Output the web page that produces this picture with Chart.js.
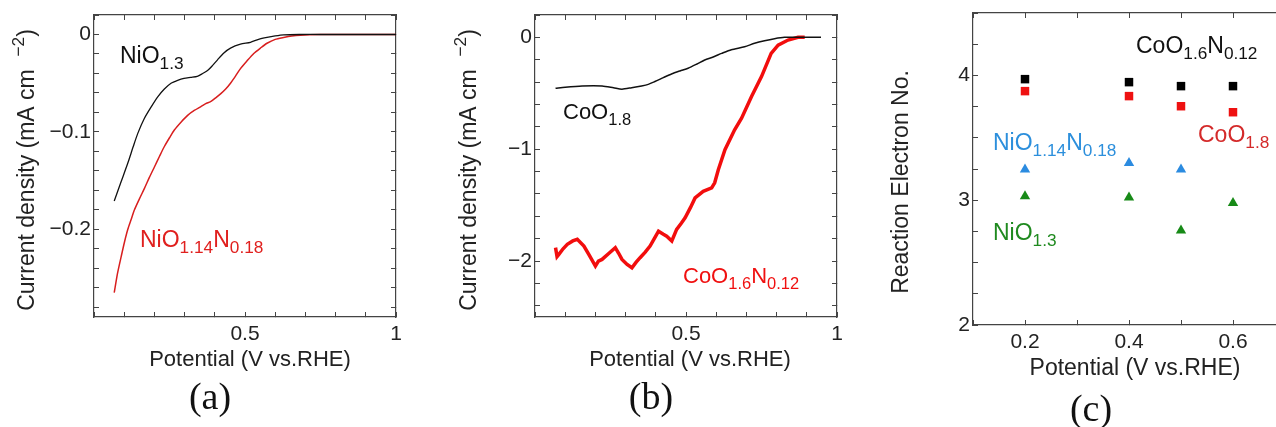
<!DOCTYPE html>
<html>
<head>
<meta charset="utf-8">
<script src="https://cdn.jsdelivr.net/npm/chart.js@4.4.1/dist/chart.umd.min.js"></script>
<style>
  html, body { margin: 0; padding: 0; background: #fff; width: 1276px; height: 427px; overflow: hidden; }
  .panel { position: absolute; top: 0; }
</style>
</head>
<body>
<div class="panel" style="left:0"><canvas id="chartA" width="420" height="427"></canvas></div>
<div class="panel" style="left:440px"><canvas id="chartB" width="420" height="427"></canvas></div>
<div class="panel" style="left:860px"><canvas id="chartC" width="440" height="427"></canvas></div>
<script>
// ---- (a) NiO LSV curves ----
const potA_NiO = [0.067, 0.09, 0.112, 0.13, 0.145, 0.167, 0.19, 0.211, 0.233, 0.255, 0.277, 0.298, 0.32, 0.342, 0.36, 0.376, 0.392, 0.409, 0.43, 0.452, 0.485, 0.518, 0.545, 0.573, 0.6, 0.628, 0.68, 0.75, 0.85, 0.95, 1.0];
const curA_NiO = [-0.171, -0.151, -0.132, -0.115, -0.1015, -0.086, -0.074, -0.064, -0.056, -0.050, -0.047, -0.045, -0.044, -0.043, -0.040, -0.037, -0.032, -0.026, -0.019, -0.014, -0.010, -0.008, -0.005, -0.003, -0.0015, -0.0004, 0, 0, 0, 0, 0];
const potA_NiON = [0.067, 0.078, 0.09, 0.101, 0.112, 0.123, 0.134, 0.15, 0.167, 0.183, 0.2, 0.217, 0.233, 0.25, 0.266, 0.288, 0.31, 0.332, 0.354, 0.37, 0.386, 0.403, 0.419, 0.436, 0.452, 0.468, 0.485, 0.507, 0.529, 0.551, 0.573, 0.6, 0.628, 0.655, 0.683, 0.75, 0.8, 0.9, 1.0];
const curA_NiON = [-0.265, -0.245, -0.228, -0.213, -0.2, -0.19, -0.18, -0.169, -0.158, -0.147, -0.136, -0.125, -0.115, -0.106, -0.098, -0.09, -0.083, -0.078, -0.074, -0.071, -0.069, -0.065, -0.061, -0.056, -0.050, -0.043, -0.035, -0.027, -0.0195, -0.014, -0.009, -0.005, -0.003, -0.0015, -0.0007, 0, 0, 0, 0];

// ---- (b) CoO LSV curves ----
const potB_CoO = [0.068, 0.1, 0.156, 0.222, 0.26, 0.288, 0.32, 0.353, 0.375, 0.397, 0.425, 0.452, 0.48, 0.507, 0.535, 0.562, 0.59, 0.618, 0.65, 0.694, 0.727, 0.76, 0.793, 0.826, 0.88, 0.947];
const curB_CoO = [-0.455, -0.445, -0.434, -0.434, -0.45, -0.463, -0.45, -0.434, -0.42, -0.395, -0.36, -0.327, -0.30, -0.276, -0.24, -0.202, -0.175, -0.143, -0.11, -0.084, -0.053, -0.030, -0.012, 0, 0, 0];
const potB_CoON = [0.068, 0.073, 0.079, 0.093, 0.107, 0.125, 0.14, 0.162, 0.18, 0.2, 0.21, 0.222, 0.245, 0.266, 0.277, 0.288, 0.305, 0.321, 0.335, 0.348, 0.365, 0.381, 0.395, 0.409, 0.425, 0.436, 0.453, 0.469, 0.485, 0.497, 0.515, 0.53, 0.557, 0.585, 0.595, 0.607, 0.629, 0.661, 0.684, 0.717, 0.75, 0.782, 0.805, 0.838, 0.871, 0.893];
const curB_CoON = [-1.88, -1.96, -1.94, -1.89, -1.85, -1.82, -1.806, -1.866, -1.95, -2.045, -2.0, -1.985, -1.93, -1.88, -1.93, -1.985, -2.03, -2.06, -2.01, -1.97, -1.92, -1.866, -1.80, -1.733, -1.76, -1.777, -1.82, -1.717, -1.66, -1.613, -1.52, -1.435, -1.376, -1.346, -1.30, -1.183, -1.004, -0.826, -0.722, -0.529, -0.351, -0.143, -0.069, -0.024, 0, 0];

// ---- (c) reaction electron number ----
const potC = [0.2, 0.4, 0.5, 0.6];
const nCoON = [3.97, 3.946, 3.914, 3.914];
const nCoO = [3.874, 3.834, 3.753, 3.705];
const nNiON = [3.245, 3.299, 3.245, null];
const nNiO = [3.032, 3.021, 2.757, 2.978];

// labelled ticks
const majorXA = [0.5, 1], majorYA = [-0.2, -0.1, 0];
const majorXB = [0.5, 1], majorYB = [-2, -1, 0];
const majorXC = [0.2, 0.4, 0.6], majorYC = [2, 3, 4];

const SANS = "'Liberation Sans', Arial, sans-serif";
const SERIF = "'Liberation Serif', 'Times New Roman', serif";
Chart.defaults.font.family = SANS;
Chart.defaults.color = '#222';

const pairs = (xs, ys) => xs.map((x, i) => ({ x, y: ys[i] })).filter(p => p.y !== null);

// rich text: "NiO_{1.3}" -> subscripts, "^{-2}" -> superscript
function drawRich(ctx, it) {
    const size = it.size || 22, fam = it.family || SANS;
    const parts = [];
    it.text.replace(/_\{([^}]*)\}|\^\{([^}]*)\}|[^_^]+/g, (m, sub, sup) => {
        if (sub !== undefined) parts.push({ t: sub, k: 'sub' });
        else if (sup !== undefined) parts.push({ t: sup, k: 'sup' });
        else parts.push({ t: m, k: '' });
    });
    ctx.save();
    ctx.fillStyle = it.color || '#222';
    let w = 0;
    parts.forEach(p => {
        p.f = (p.k ? size * 0.75 : size) + 'px ' + fam;
        ctx.font = p.f;
        p.w = ctx.measureText(p.t).width;
        w += p.w;
    });
    ctx.translate(it.x, it.y);
    if (it.rotate) ctx.rotate(it.rotate);
    ctx.textBaseline = it.baseline || 'alphabetic';
    let x = it.align === 'center' ? -w / 2 : 0;
    parts.forEach(p => {
        ctx.font = p.f;
        const dy = p.k === 'sub' ? size * 0.26 : p.k === 'sup' ? -size * 0.4 : 0;
        ctx.fillText(p.t, x, dy);
        x += p.w;
    });
    ctx.restore();
}

const textLayer = {
    id: 'textLayer',
    afterDraw(chart, args, opts) {
        (opts.items || []).forEach(it => drawRich(chart.ctx, it));
    }
};

function stepTicks(step) {
    return scale => {
        const out = [];
        const n0 = Math.ceil(scale.min / step - 1e-6), n1 = Math.floor(scale.max / step + 1e-6);
        for (let i = n0; i <= n1; i++) out.push({ value: +(i * step).toFixed(6) });
        scale.ticks = out;
    };
}

const fmt = v => (v < 0 ? '\u2212' : '') + Math.abs(v);

function axis(pos, min, max, step, majors, size, labels) {
    const horiz = pos === 'top' || pos === 'bottom';
    return {
        type: 'linear', position: pos, min, max,
        afterBuildTicks: stepTicks(step),
        afterFit: s => {
            if (horiz) s.height = size; else s.width = size;
            s.paddingTop = s.paddingBottom = s.paddingLeft = s.paddingRight = 0;
        },
        grid: { drawOnChartArea: false, drawTicks: true, tickLength: -5, color: '#444', lineWidth: 1 },
        border: { display: true, color: '#444', width: 1.2 },
        ticks: {
            display: labels, autoSkip: false, maxRotation: 0,
            padding: horiz ? 10 : 8,
            font: { size: 21 }, color: '#222',
            callback: v => majors.some(m => Math.abs(m - v) < 1e-6) ? fmt(v) : ''
        }
    };
}

function lsvChart(id, sets, xr, yr, sizes, items) {
    new Chart(document.getElementById(id), {
        type: 'line',
        data: { datasets: sets },
        options: {
            responsive: false, animation: false,
            layout: { padding: 0 },
            elements: { point: { radius: 0 }, line: { tension: 0.25 } },
            plugins: { legend: { display: false }, tooltip: { enabled: false }, textLayer: { items } },
            scales: {
                x: axis('bottom', xr[0], xr[1], xr[2], xr[3], sizes.bottom, true),
                x2: axis('top', xr[0], xr[1], xr[2], [], sizes.top, false),
                y: axis('left', yr[0], yr[1], yr[2], yr[3], sizes.left, true),
                y2: axis('right', yr[0], yr[1], yr[2], [], sizes.right, false)
            }
        },
        plugins: [textLayer]
    });
}

const yTitleJ = 'Current density (mA cm  ^{\u22122})';
const xTitle = 'Potential (V vs.RHE)';

lsvChart('chartA', [
    { data: pairs(potA_NiO, curA_NiO), borderColor: '#111', borderWidth: 1.3 },
    { data: pairs(potA_NiON, curA_NiON), borderColor: '#d81e1e', borderWidth: 1.5 }
], [0, 1, 0.1, majorXA], [-0.29, 0.02, 0.02, majorYA],
   { left: 94, right: 24, top: 15, bottom: 110 }, [
    { text: yTitleJ, x: 28, y: 170, rotate: -Math.PI / 2, align: 'center', baseline: 'middle', size: 23 },
    { text: xTitle, x: 250, y: 360, align: 'center', baseline: 'middle', size: 22 },
    { text: '(a)', x: 210, y: 409, align: 'center', size: 38, family: SERIF, color: '#111' },
    { text: 'NiO_{1.3}', x: 120, y: 63, size: 23, color: '#111' },
    { text: 'NiO_{1.14}N_{0.18}', x: 140, y: 247, size: 23, color: '#e0201e' }
]);

lsvChart('chartB', [
    { data: pairs(potB_CoO, curB_CoO), borderColor: '#111', borderWidth: 1.5 },
    { data: pairs(potB_CoON, curB_CoON), borderColor: '#f20d0d', borderWidth: 3.5, tension: 0 }
], [0, 1, 0.1, majorXB], [-2.5, 0.2, 0.2, majorYB],
   { left: 95, right: 23, top: 15, bottom: 110 }, [
    { text: yTitleJ, x: 30, y: 170, rotate: -Math.PI / 2, align: 'center', baseline: 'middle', size: 23 },
    { text: xTitle, x: 250, y: 360, align: 'center', baseline: 'middle', size: 22 },
    { text: '(b)', x: 211, y: 409, align: 'center', size: 38, family: SERIF, color: '#111' },
    { text: 'CoO_{1.8}', x: 123, y: 119, size: 22, color: '#111' },
    { text: 'CoO_{1.6}N_{0.12}', x: 243, y: 283, size: 22, color: '#f01010' }
]);

// (c) scatter
const markC = (label, ys, color, style, r) => ({
    label, data: pairs(potC, ys), backgroundColor: color, borderColor: color,
    borderWidth: 0, pointStyle: style, pointRadius: r
});

new Chart(document.getElementById('chartC'), {
    type: 'scatter',
    data: {
        datasets: [
            markC('CoO1.6N0.12', nCoON, '#000', 'rect', 6),
            markC('CoO1.8', nCoO, '#ee1111', 'rect', 6),
            markC('NiO1.14N0.18', nNiON, '#2b8be0', 'triangle', 6),
            markC('NiO1.3', nNiO, '#178a17', 'triangle', 6)
        ]
    },
    options: {
        responsive: false, animation: false,
        layout: { padding: 0 },
        plugins: {
            legend: { display: false }, tooltip: { enabled: false },
            textLayer: {
                items: [
                    { text: 'Reaction Electron No.', x: 41.5, y: 182, rotate: -Math.PI / 2, align: 'center', baseline: 'middle', size: 23 },
                    { text: xTitle, x: 275, y: 369, align: 'center', baseline: 'middle', size: 23 },
                    { text: '(c)', x: 231, y: 421, align: 'center', size: 38, family: SERIF, color: '#111' },
                    { text: 'CoO_{1.6}N_{0.12}', x: 276, y: 53, size: 23, color: '#111' },
                    { text: 'CoO_{1.8}', x: 338, y: 142, size: 23, color: '#d42a2a' },
                    { text: 'NiO_{1.14}N_{0.18}', x: 133, y: 150, size: 23, color: '#2c8fdc' },
                    { text: 'NiO_{1.3}', x: 133, y: 240, size: 23, color: '#1f8a1f' }
                ]
            }
        },
        scales: {
            x: axis('bottom', 0.1, 0.7, 0.1, majorXC, 102, true),
            x2: axis('top', 0.1, 0.7, 0.1, [], 13, false),
            y: axis('left', 2, 4.5, 0.25, majorYC, 113, true),
            y2: axis('right', 2, 4.5, 0.25, [], 15, false)
        }
    },
    plugins: [textLayer]
});
</script>
</body>
</html>
